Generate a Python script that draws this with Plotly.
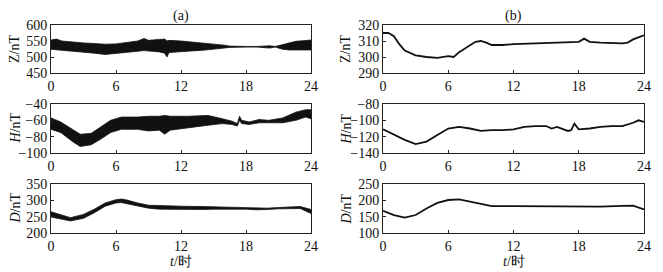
import plotly.graph_objects as go

# ---------------- data ----------------
# Panel (a): noisy records drawn as envelopes (upper / lower bounds of the band)
ta_z = [0, 0.5, 1, 2, 3, 4, 5, 6, 7, 8, 8.6, 9, 10, 10.5, 10.7, 10.9, 12, 13, 14, 15, 16, 16.5, 17, 18, 19, 19.8, 20.2, 20.7, 21.4, 22, 22.6, 23.3, 24]
za_hi = [553, 556, 550, 546, 544, 542, 540, 541, 545, 550, 558, 552, 555, 556, 550, 552, 550, 547, 545, 541, 537, 534, 533, 533, 533, 535, 535, 533, 539, 545, 549, 551, 553]
za_lo = [524, 522, 522, 517, 515, 512, 508, 510, 515, 518, 520, 519, 516, 512, 500, 514, 517, 519, 521, 524, 528, 530, 531, 531, 531, 529, 528, 531, 524, 522, 522, 521, 522]

ta_h = [0, 0.9, 2.1, 2.7, 3.7, 4.6, 5.5, 6.5, 8, 9, 10, 10.5, 11, 12.7, 14.5, 15.8, 16.7, 17.2, 17.4, 17.6, 18.3, 19.2, 20.1, 21.4, 22.6, 23.5, 24]
ha_hi = [-57, -62, -72, -77, -76, -68, -60, -56, -56, -55, -55, -54, -55, -55, -54, -58, -61, -64, -55, -60, -62, -59, -60, -57, -50, -47, -47]
ha_lo = [-71, -75, -87, -92, -90, -83, -75, -71, -71, -73, -72, -77, -72, -69, -66, -64, -65, -67, -60, -64, -65, -63, -63, -63, -60, -56, -58]

ta_d = [0, 1, 1.8, 3, 4, 5, 6, 6.5, 7, 8, 9, 10, 11, 12, 14, 15, 16, 18, 19, 20, 21, 22, 23, 24]
da_hi = [265, 254, 247, 257, 273, 292, 302, 304, 301, 292, 285, 284, 282, 282, 281, 280, 278, 276, 275, 276, 278, 279, 281, 272]
da_lo = [249, 243, 237, 245, 262, 282, 292, 293, 290, 283, 276, 273, 272, 273, 272, 273, 274, 273, 271, 272, 274, 275, 275, 260]

# Panel (b): smooth records
tb_z = [0, 0.5, 1, 1.5, 2, 3, 4, 5, 6, 6.5, 7, 8, 8.5, 9, 9.5, 10, 11, 12, 14, 16, 17, 18, 18.5, 19, 20, 22, 22.5, 23, 24]
zb = [315, 315, 313, 308, 304, 301, 300, 299.5, 300.5, 300, 303, 307, 309.5, 310, 309, 307.5, 307.5, 308, 308.5, 309, 309.5, 309.5, 311.5, 309.5, 309, 308.5, 309, 311, 313.5]

tb_h = [0, 1, 2, 3, 4, 5, 6, 7, 8, 9, 10, 11, 12, 13, 14, 15, 15.5, 16, 17, 17.3, 17.6, 18, 19, 20, 21, 22, 23, 23.5, 24]
hb = [-111, -118, -124, -129, -126, -118, -110, -108, -110, -113, -112, -112, -111, -108, -107, -107, -110, -108, -113, -112, -104, -111, -110, -108, -107, -107, -103, -100, -102]

tb_d = [0, 1, 2, 3, 4, 5, 6, 7, 8, 9, 10, 12, 14, 16, 18, 19, 20, 22, 23, 24]
db = [168, 155, 147, 155, 175, 192, 201, 203, 196, 188, 182, 182, 182, 182, 180, 182, 181, 183, 184, 172]

x_ticks = [0, 6, 12, 18, 24]
y_titles = ["Z/nT", "<i>H</i>/nT", "<i>D</i>/nT"]
panel_labels = ["(a)", "(b)"]
x_title = "<i>t</i>/时"

ranges_a = [[450, 600], [-100, -40], [200, 350]]
ranges_b = [[290, 320], [-140, -80], [100, 250]]
dticks_a = [50, 20, 50]
dticks_b = [10, 20, 50]

# ---------------- figure ----------------
OFF = 8  # page body margin
W, H = 663 - OFF, 272 - OFF
FONT = "Liberation Serif, Times New Roman, serif"
FS = 14
fig = go.Figure()


def px_x(p):
    return (p - OFF) / W


def px_y(p):
    return 1 - (p - OFF) / H


col_px = [(51, 311), (383, 644)]
col_dom = [[px_x(a), px_x(b)] for a, b in col_px]
row_px = [(25, 73), (104, 153), (184, 233)]
row_dom = [[px_y(b), px_y(t)] for t, b in row_px]
ytitle_px = [15, 346]

env_a = [(ta_z, za_hi, za_lo), (ta_h, ha_hi, ha_lo), (ta_d, da_hi, da_lo)]
line_b = [(tb_z, zb), (tb_h, hb), (tb_d, db)]

layout = {}
annotations = []
n = 0
for c in range(2):
    for r in range(3):
        n += 1
        xa = "x" if n == 1 else f"x{n}"
        ya = "y" if n == 1 else f"y{n}"
        xk = "xaxis" if n == 1 else f"xaxis{n}"
        yk = "yaxis" if n == 1 else f"yaxis{n}"
        if c == 0:
            tt, hi, lo = env_a[r]
            fig.add_trace(go.Scatter(
                x=list(tt) + list(tt)[::-1], y=list(hi) + list(lo)[::-1],
                fill="toself", fillcolor="#111111", mode="lines",
                line=dict(color="#111111", width=0.8), xaxis=xa, yaxis=ya,
                showlegend=False, hoverinfo="skip"))
            yr, dt = ranges_a[r], dticks_a[r]
        else:
            tt, vv = line_b[r]
            fig.add_trace(go.Scatter(
                x=tt, y=vv, mode="lines", line=dict(color="#111111", width=1.8),
                xaxis=xa, yaxis=ya, showlegend=False))
            yr, dt = ranges_b[r], dticks_b[r]
        layout[xk] = dict(
            domain=col_dom[c], range=[0, 24], tickvals=x_ticks, anchor=ya,
            showline=True, linecolor="#222", linewidth=1, mirror=True, automargin=False,
            ticks="inside", ticklen=3, tickcolor="#222", showgrid=False, zeroline=False,
            tickfont=dict(family=FONT, size=FS, color="#111"))
        layout[yk] = dict(
            domain=row_dom[r], range=yr, dtick=dt, tick0=yr[0], anchor=xa,
            showline=True, linecolor="#222", linewidth=1, mirror=True, automargin=False,
            ticks="inside", ticklen=3, tickcolor="#222", showgrid=False, zeroline=False,
            tickfont=dict(family=FONT, size=FS, color="#111"))
        # y-axis title
        annotations.append(dict(
            text=y_titles[r], textangle=-90, x=px_x(ytitle_px[c]),
            y=(row_dom[r][0] + row_dom[r][1]) / 2, xref="paper", yref="paper",
            xanchor="center", yanchor="middle", showarrow=False,
            font=dict(family=FONT, size=FS, color="#111")))
    # x-axis title and panel label
    annotations.append(dict(
        text=x_title, x=(col_dom[c][0] + col_dom[c][1]) / 2, y=px_y(261),
        xref="paper", yref="paper", xanchor="center", yanchor="middle", showarrow=False,
        font=dict(family=FONT, size=FS, color="#111")))
    annotations.append(dict(
        text=panel_labels[c], x=(col_dom[c][0] + col_dom[c][1]) / 2, y=px_y(16),
        xref="paper", yref="paper", xanchor="center", yanchor="middle", showarrow=False,
        font=dict(family=FONT, size=FS, color="#111")))

fig.update_layout(
    width=W, height=H, margin=dict(l=0, r=0, t=0, b=0, autoexpand=False),
    paper_bgcolor="white", plot_bgcolor="white",
    font=dict(family=FONT, size=FS, color="#111"),
    annotations=annotations,
    **layout)

fig.write_html("out.html")
